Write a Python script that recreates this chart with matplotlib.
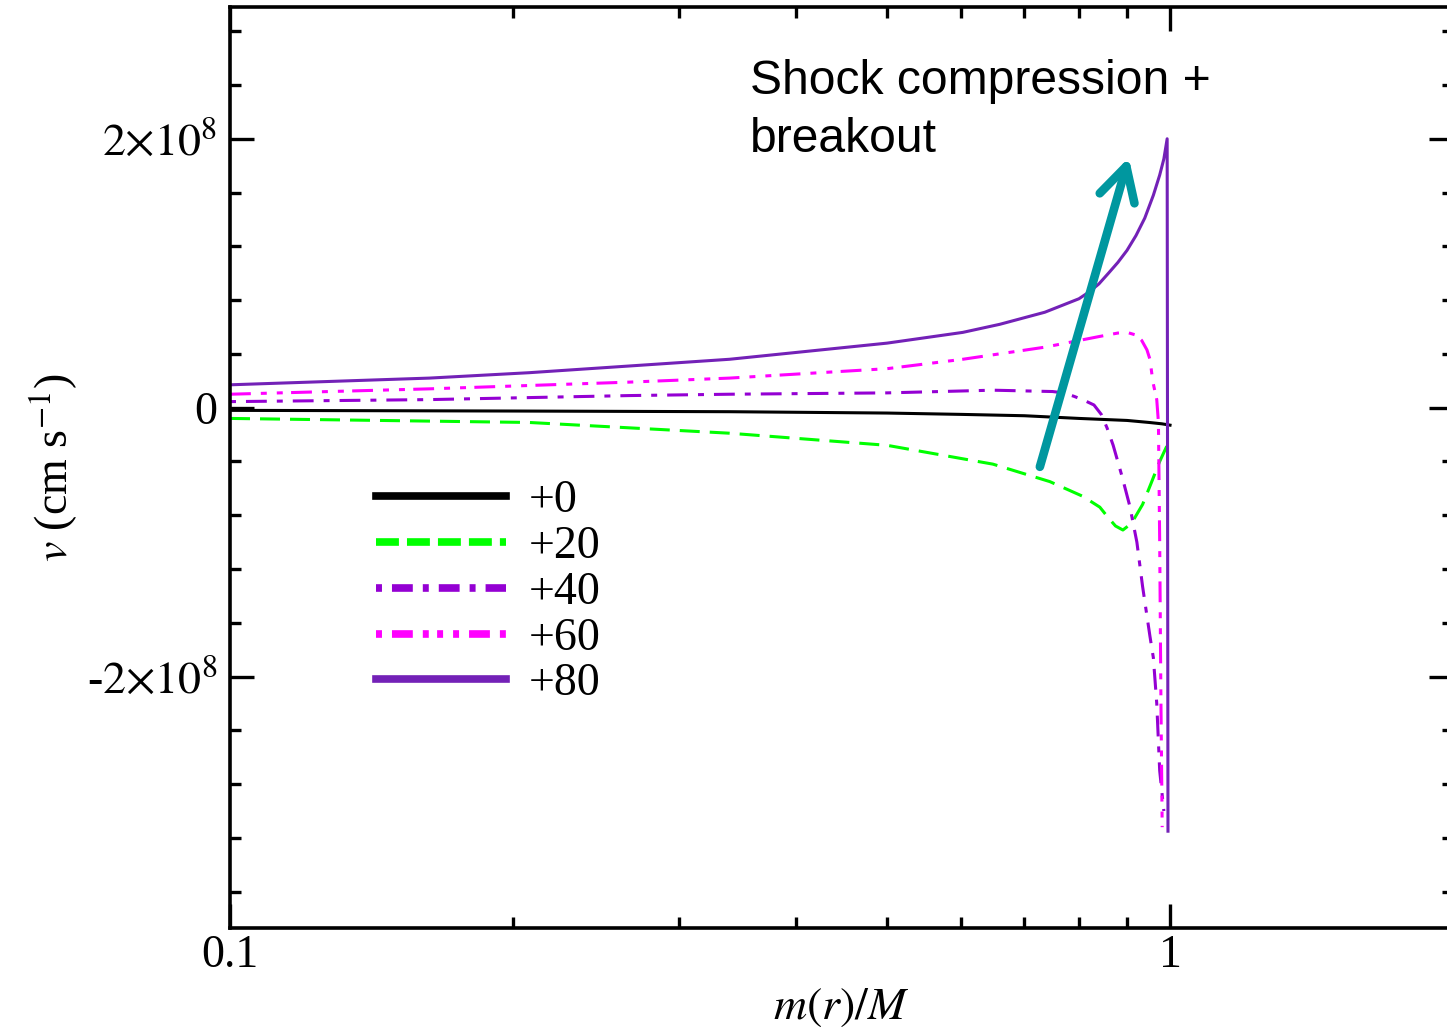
import numpy as np
import matplotlib
matplotlib.use('Agg')
import matplotlib.pyplot as plt
from matplotlib.lines import Line2D
from matplotlib.ticker import FixedLocator, FixedFormatter, MultipleLocator, NullFormatter

plt.rcParams['font.family'] = ['Liberation Serif', 'DejaVu Serif']
plt.rcParams['mathtext.fontset'] = 'stix'
plt.rcParams['lines.scale_dashes'] = False

# mass coordinate m(r)/M and velocity (cm/s) for each epoch
m_0 = [0.1, 0.2, 0.34, 0.5, 0.6, 0.7, 0.8, 0.9, 0.95, 0.98, 1.0]
v_0 = [-0.02e8, -0.025e8, -0.03e8, -0.04e8, -0.05e8, -0.06e8, -0.08e8, -0.095e8, -0.11e8, -0.12e8, -0.13e8]

m_20 = [0.1, 0.163, 0.208, 0.266, 0.34, 0.5, 0.648, 0.745, 0.808, 0.842, 0.86, 0.875, 0.891,
        0.91, 0.935, 0.955, 0.975, 0.99, 1.0]
v_20 = [-0.08e8, -0.10e8, -0.11e8, -0.15e8, -0.19e8, -0.28e8, -0.42e8, -0.55e8, -0.66e8, -0.74e8,
        -0.82e8, -0.88e8, -0.91e8, -0.86e8, -0.72e8, -0.56e8, -0.40e8, -0.30e8, -0.24e8]

m_40 = [0.1, 0.163, 0.266, 0.34, 0.5, 0.648, 0.75, 0.77, 0.79, 0.81, 0.83, 0.845, 0.857, 0.87,
        0.889, 0.906, 0.922, 0.935, 0.952, 0.96, 0.968, 0.975, 0.985]
v_40 = [0.045e8, 0.06e8, 0.09e8, 0.10e8, 0.11e8, 0.13e8, 0.12e8, 0.11e8, 0.085e8, 0.055e8, 0.02e8,
        -0.05e8, -0.15e8, -0.28e8, -0.51e8, -0.73e8, -1.0e8, -1.33e8, -1.70e8, -1.86e8, -2.2e8,
        -2.7e8, -3.0e8]

m_60 = [0.1, 0.163, 0.266, 0.34, 0.5, 0.602, 0.736, 0.842, 0.88, 0.9, 0.92, 0.933, 0.945, 0.952,
        0.959, 0.968, 0.972, 0.975, 0.978, 0.981]
v_60 = [0.10e8, 0.14e8, 0.19e8, 0.22e8, 0.29e8, 0.36e8, 0.45e8, 0.53e8, 0.555e8, 0.56e8, 0.54e8,
        0.50e8, 0.43e8, 0.36e8, 0.19e8, 0.06e8, -0.11e8, -1.0e8, -2.2e8, -3.12e8]

m_80 = [0.1, 0.163, 0.208, 0.266, 0.34, 0.5, 0.602, 0.659, 0.736, 0.8, 0.82, 0.84, 0.86, 0.88,
        0.90, 0.92, 0.94, 0.96, 0.975, 0.985, 0.993, 0.995]
v_80 = [0.17e8, 0.22e8, 0.26e8, 0.31e8, 0.36e8, 0.48e8, 0.56e8, 0.62e8, 0.71e8, 0.81e8, 0.86e8,
        0.92e8, 1.0e8, 1.08e8, 1.17e8, 1.28e8, 1.41e8, 1.58e8, 1.73e8, 1.85e8, 2.0e8, -3.15e8]

labels = ['+0', '+20', '+40', '+60', '+80']
colors = ['black', '#00ff00', '#9400d3', '#ff00ff', '#7321b7']

series = [(m_0, v_0), (m_20, v_20), (m_40, v_40), (m_60, v_60), (m_80, v_80)]
plot_dashes = [None, (14.4, 7.2), (4.3, 7.2, 15, 7.2), (15, 7.2, 4.3, 7.2, 4.3, 6), None]
leg_dashes = [None, (16.5, 5.8), (4.3, 7.2, 15, 7.2), (4.3, 7.2, 15, 7.2, 4.3, 6, 4.3, 7.2), None]

fig = plt.figure(figsize=(14.47, 10.30), dpi=100)
ax = fig.add_axes([230/1447, 1-928/1030, 1223/1447, 921/1030])

for (m, v), c, d in zip(series, colors, plot_dashes):
    line, = ax.plot(m, v, color=c, lw=2.2)
    if d is not None:
        line.set_dashes(d)

ax.set_xscale('log')
ax.set_xlim(0.1, 2.0)
ax.set_ylim(-3.87e8, 2.98e8)

ax.xaxis.set_major_locator(FixedLocator([0.1, 1]))
ax.xaxis.set_major_formatter(FixedFormatter(['0.1', '1']))
ax.xaxis.set_minor_locator(FixedLocator([0.2, 0.3, 0.4, 0.5, 0.6, 0.7, 0.8, 0.9, 2.0]))
ax.xaxis.set_minor_formatter(NullFormatter())

ax.yaxis.set_major_locator(FixedLocator([-2e8, 0, 2e8]))
ax.yaxis.set_major_formatter(FixedFormatter([r'-$2{\times}10^{8}$', '0', r'$2{\times}10^{8}$']))
ax.yaxis.set_minor_locator(MultipleLocator(4e7))

ax.tick_params(which='both', direction='in', top=True, right=True, width=2.4,
               labelsize=33)
ax.tick_params(which='major', length=17)
ax.tick_params(which='minor', length=8)
ax.tick_params(axis='x', which='major', pad=5)
ax.tick_params(axis='y', which='major', pad=9)
for s in ax.spines.values():
    s.set_linewidth(2.6)

ax.set_xlabel(r'$m(r)/M$', fontsize=33)
ax.set_ylabel(r'$v$ (cm s$^{-1}$)', fontsize=33)
ax.xaxis.set_label_coords(0.5, -0.064)
ax.yaxis.set_label_coords(-0.1226, 0.5)

handles = []
for c, d in zip(colors, leg_dashes):
    h = Line2D([], [], color=c, lw=5.5)
    if d is not None:
        h.set_dashes(d)
    handles.append(h)
ax.legend(handles, labels, loc='upper left', bbox_to_anchor=(0.1195, 0.4865), frameon=False,
          fontsize=33, handlelength=2.84, handletextpad=0.5, labelspacing=0.07,
          borderpad=0, borderaxespad=0)

# annotation
ax.annotate('', xy=(0.904, 1.86e8), xytext=(0.727, -0.44e8),
            arrowprops=dict(arrowstyle='->,head_length=24,head_width=13', mutation_scale=1,
                            color='#00979f', lw=6.2, shrinkA=0, shrinkB=0,
                            capstyle='round', joinstyle='round'))
fig.text(750/1447, 1-59/1030, 'Shock compression +\nbreakout', family='Liberation Sans',
         fontsize=34.6, linespacing=1.36, ha='left', va='top')

fig.savefig('out.png', dpi=100)
